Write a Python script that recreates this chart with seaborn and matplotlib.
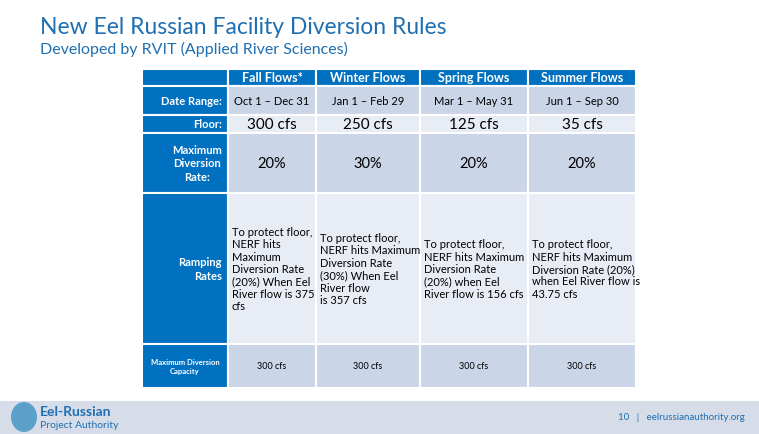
import matplotlib
matplotlib.use("Agg")
import matplotlib.pyplot as plt
import seaborn as sns
from matplotlib.patches import Rectangle, Ellipse

seasons = ["Fall Flows*", "Winter Flows", "Spring Flows", "Summer Flows"]
row_labels = ["Date Range:", "Floor:", "Maximum\nDiversion\nRate:", "Ramping\nRates", "Maximum Diversion\nCapacity"]
date_ranges = ["Oct 1 – Dec 31", "Jan 1 – Feb 29", "Mar 1 – May 31", "Jun 1 – Sep 30"]
floors = ["300 cfs", "250 cfs", "125 cfs", "35 cfs"]
max_div = ["20%", "30%", "20%", "20%"]
ramping = ["To protect floor,\nNERF hits\nMaximum\nDiversion Rate\n(20%) When Eel\nRiver flow is 375\ncfs",
           "To protect floor,\nNERF hits Maximum\nDiversion Rate\n(30%) When Eel\nRiver flow\nis 357 cfs",
           "To protect floor,\nNERF hits Maximum\nDiversion Rate\n(20%) when Eel\nRiver flow is 156 cfs",
           "To protect floor,\nNERF hits Maximum\nDiversion Rate (20%)\nwhen Eel River flow is\n43.75 cfs"]
capacity = ["300 cfs", "300 cfs", "300 cfs", "300 cfs"]

sns.set_theme(style="white")
plt.rcParams["font.family"] = "Lato"
fig = plt.figure(figsize=(7.59, 4.35), dpi=100)
ax = fig.add_axes([0, 0, 1, 1])
ax.set_xlim(0, 759); ax.set_ylim(435, 0); ax.axis("off")

blue = "#0070c0"; dark = "#cbd5e8"; light = "#e8ecf5"; title_c = "#1f6fb2"
ax.text(40, 27, "New Eel Russian Facility Diversion Rules", fontsize=16.5, color=title_c, va="center")
ax.text(40, 49, "Developed by RVIT (Applied River Sciences)", fontsize=11.5, color=title_c, va="center")

cols = [142, 228, 316, 420, 528, 636]
rows = [70, 87, 116, 134, 194, 345, 389]
body = [date_ranges, floors, max_div, ramping, capacity]
sizes = [8, 11, 10.5, 8, 6.5]
for ci in range(5):
    ax.add_patch(Rectangle((cols[ci], rows[0]), cols[ci+1]-cols[ci], rows[1]-rows[0], fc=blue, ec="white", lw=1.5))
for ci, s in enumerate(seasons):
    ax.text((cols[ci+1]+cols[ci+2])/2, (rows[0]+rows[1])/2, s, color="white", fontsize=9, weight="bold", ha="center", va="center")
for ri in range(5):
    y0, y1 = rows[ri+1], rows[ri+2]
    ax.add_patch(Rectangle((cols[0], y0), cols[1]-cols[0], y1-y0, fc=blue, ec="white", lw=1.5))
    if ri == 4:
        ax.text((cols[0]+cols[1])/2, (y0+y1)/2, row_labels[ri], color="white", fontsize=5.5, weight="bold", ha="center", va="center")
    else:
        ax.text(cols[1]-6, (y0+y1)/2, row_labels[ri], color="white", fontsize=8, weight="bold", ha="right",
                va="center", multialignment="center" if ri == 2 else "right", linespacing=1.3)
    fc = dark if ri % 2 == 0 else light
    for ci in range(4):
        ax.add_patch(Rectangle((cols[ci+1], y0), cols[ci+2]-cols[ci+1], y1-y0, fc=fc, ec="white", lw=1.5))
        if ri == 3:
            ax.text(cols[ci+1]+4, (y0+y1)/2, body[ri][ci], fontsize=sizes[ri], ha="left", va="center", color="black", linespacing=1.15)
        else:
            ax.text((cols[ci+1]+cols[ci+2])/2, (y0+y1)/2, body[ri][ci], fontsize=sizes[ri], ha="center", va="center", color="black")

ax.add_patch(Rectangle((0, 402), 759, 33, fc="#d6dde8", ec="none"))
ax.add_patch(Ellipse((24, 418), 26, 30, fc="#5aa0c8", ec="none"))
ax.text(40, 412, "Eel-Russian", fontsize=10, weight="bold", color="#1f6fb2", va="center")
ax.text(40, 426, "Project Authority", fontsize=7.5, color="#1f6fb2", va="center")
ax.text(745, 418, "10   |   eelrussianauthority.org", fontsize=7, color="#1f6fb2", ha="right", va="center")
fig.savefig("out.png", dpi=100)
